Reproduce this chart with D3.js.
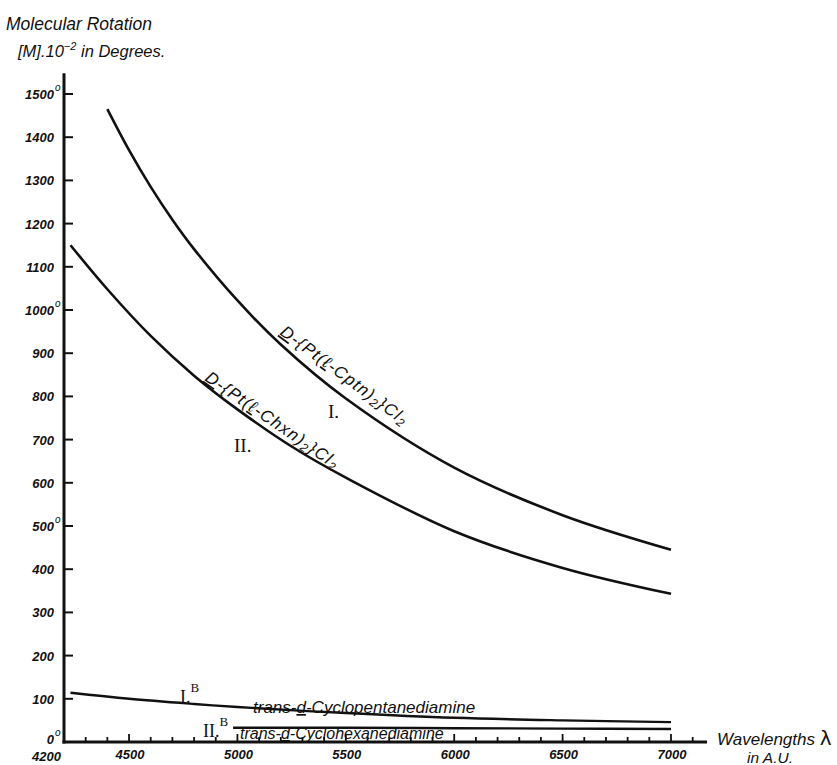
<!DOCTYPE html>
<html>
<head>
<meta charset="utf-8">
<script src="https://cdn.jsdelivr.net/npm/d3@7"></script>
<style>
  body { margin: 0; background: #fff; }
  svg text { fill: #111; }
  .hand { font-family: "Liberation Sans", "DejaVu Sans", sans-serif; font-style: italic; }
  .roman { font-family: "Liberation Serif", "DejaVu Serif", serif; }
</style>
</head>
<body>
<div id="chart"></div>
<script>
// wavelengths (A.U.) and molecular rotation [M].10^-2 (degrees)
let lambdaI = [4400, 4500, 4600, 4700, 4800, 5000, 5200, 5500, 6000, 6500, 7000];
let rotI    = [1465, 1370, 1285, 1209, 1141, 1022, 920, 795, 635, 525, 445];

let lambdaII = [4230, 4400, 4600, 4800, 5000, 5250, 5500, 6000, 6500, 7000];
let rotII    = [1150, 1048, 940, 848, 770, 684, 612, 488, 403, 343];

let lambdaIB = [4230, 4500, 4800, 5000, 5500, 6000, 6500, 7000];
let rotIB    = [114, 100, 88, 81, 67, 56, 50, 46];

let lambdaIIB = [4980, 5500, 6000, 6500, 7000];
let rotIIB    = [33, 33, 32, 31, 30];

let yTicks = d3.range(0, 1501, 100);
let xMajor = [4200, 4500, 5000, 5500, 6000, 6500, 7000];
let xMinor = d3.range(4300, 7101, 100);
let degreeTicks = [0, 500, 1000, 1500];

let width = 837, height = 765;

let x = d3.scaleLinear().domain([4200, 7000]).range([64, 671]);
let y = d3.scaleLinear().domain([0, 1500]).range([742, 94]);

let svg = d3.select("#chart").append("svg")
    .attr("width", width)
    .attr("height", height);

// title
svg.append("text").attr("class", "hand").attr("font-size", 17.5)
    .attr("x", 6).attr("y", 30).text("Molecular Rotation");
let t2 = svg.append("text").attr("class", "hand").attr("font-size", 16.5).attr("x", 18).attr("y", 57);
t2.append("tspan").text("[M].10");
t2.append("tspan").attr("dy", -7).attr("font-size", 11).text("−2");
t2.append("tspan").attr("dy", 7).text(" in Degrees.");

// axes
let axes = svg.append("g").attr("stroke", "#111").attr("stroke-linecap", "butt");
axes.append("line")
    .attr("x1", x(4200)).attr("x2", x(4200))
    .attr("y1", y(0) + 1.5).attr("y2", y(1548))
    .attr("stroke-width", 3);
axes.append("line")
    .attr("x1", x(4200) - 1.5).attr("x2", x(7166))
    .attr("y1", y(0)).attr("y2", y(0))
    .attr("stroke-width", 3);

axes.selectAll(".ytick")
    .data(yTicks.filter(d => d > 0))
    .enter().append("line")
    .attr("x1", x(4200)).attr("x2", x(4200) + 9)
    .attr("y1", d => y(d)).attr("y2", d => y(d))
    .attr("stroke-width", 2);

axes.selectAll(".xtick")
    .data(xMinor)
    .enter().append("line")
    .attr("x1", d => x(d)).attr("x2", d => x(d))
    .attr("y1", y(0))
    .attr("y2", d => y(0) - (d % 500 === 0 ? 8 : 5))
    .attr("stroke-width", 1.8);

// tick labels
svg.selectAll(".ylab")
    .data(yTicks)
    .enter().append("text")
    .attr("class", "hand")
    .attr("font-size", 13)
    .attr("font-weight", "bold")
    .attr("text-anchor", "end")
    .attr("x", 54)
    .attr("y", d => d === 0 ? y(d) + 2 : y(d) + 5)
    .text(d => d);

svg.selectAll(".deg")
    .data(degreeTicks)
    .enter().append("text")
    .attr("class", "hand")
    .attr("font-size", 10)
    .attr("x", 55)
    .attr("y", d => d === 0 ? y(d) - 6 : y(d) - 3)
    .text("o");

svg.selectAll(".xlab")
    .data(xMajor)
    .enter().append("text")
    .attr("class", "hand")
    .attr("font-size", 13)
    .attr("font-weight", "bold")
    .attr("text-anchor", d => d === 4200 ? "end" : "middle")
    .attr("x", d => d === 4200 ? x(d) - 3 : x(d) + 1)
    .attr("y", d => d === 4200 ? 761 : 759)
    .text(d => d);

let xl = svg.append("text").attr("class", "hand").attr("font-size", 17).attr("x", 717).attr("y", 745);
xl.append("tspan").text("Wavelengths ");
xl.append("tspan").attr("font-style", "normal").attr("font-size", 20).attr("font-family", "DejaVu Sans").text("λ");
svg.append("text").attr("class", "hand").attr("font-size", 15.5)
    .attr("x", 770).attr("y", 763).attr("text-anchor", "middle").text("in A.U.");

// curves
let line = d3.line()
    .x(d => x(d[0]))
    .y(d => y(d[1]))
    .curve(d3.curveCatmullRom.alpha(0.5));

let series = [
    [lambdaI, rotI, 2.6],
    [lambdaII, rotII, 2.6],
    [lambdaIB, rotIB, 2.4],
    [lambdaIIB, rotIIB, 2.4]
];

svg.append("g")
    .selectAll("path")
    .data(series)
    .enter().append("path")
    .attr("d", s => line(s[0].map((l, i) => [l, s[1][i]])))
    .attr("fill", "none")
    .attr("stroke", "#111")
    .attr("stroke-width", s => s[2]);

// curve labels
let rotLabel = (px, py, angle, name) => {
    let t = svg.append("text")
        .attr("class", "hand")
        .attr("font-size", 17)
        .attr("letter-spacing", 1.2)
        .attr("transform", `translate(${px},${py}) rotate(${angle})`);
    t.append("tspan").attr("text-decoration", "underline").text("D");
    t.append("tspan").text("-{Pt(");
    t.append("tspan").attr("text-decoration", "underline").text("ℓ");
    t.append("tspan").text(`-${name}n)`);
    t.append("tspan").attr("font-size", 12).attr("dy", 3).text("2");
    t.append("tspan").attr("dy", -3).text("}Cl");
    t.append("tspan").attr("font-size", 12).attr("dy", 3).text("2");
};
rotLabel(279, 334, 36.5, "Cpt");
rotLabel(204, 380, 34.5, "Chx");

svg.append("text").attr("class", "roman").attr("font-size", 19)
    .attr("x", 328).attr("y", 418).text("I.");
svg.append("text").attr("class", "roman").attr("font-size", 19)
    .attr("x", 234).attr("y", 452).text("II.");

let ib = svg.append("text").attr("class", "roman").attr("font-size", 18).attr("x", 180).attr("y", 703);
ib.append("tspan").text("I.");
ib.append("tspan").attr("font-size", 13).attr("dy", -11).text("B");
let iib = svg.append("text").attr("class", "roman").attr("font-size", 18).attr("x", 203).attr("y", 737);
iib.append("tspan").text("II.");
iib.append("tspan").attr("font-size", 13).attr("dy", -11).text("B");

let diam = (px, py, size, name) => {
    let t = svg.append("text").attr("class", "hand").attr("font-size", size)
        .attr("x", px).attr("y", py);
    t.append("tspan").text("trans-");
    t.append("tspan").attr("text-decoration", "underline").text("d");
    t.append("tspan").text(`-${name}`);
};
diam(253, 713, 17, "Cyclopentanediamine");
diam(240, 739, 16, "Cyclohexanediamine");
</script>
</body>
</html>
